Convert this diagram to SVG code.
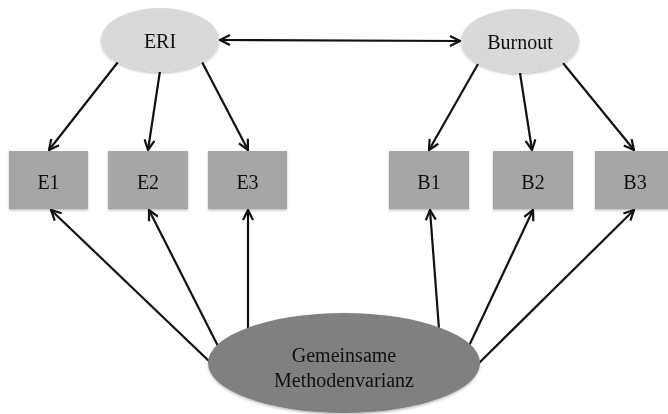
<svg xmlns="http://www.w3.org/2000/svg" width="668" height="414" viewBox="0 0 668 414">
  <style>
    .lat { fill: #d9d9d9; }
    .box { fill: #a6a6a6; }
    .cmv { fill: #808080; }
    .lbl { font-family: "Liberation Serif", "Times New Roman", serif; font-size: 20px; fill: #111; text-anchor: middle; }
    .edge { stroke: #111; stroke-width: 2.2; fill: none; marker-end: url(#head); }
    .both { marker-start: url(#tail); }
  </style>
  <defs>
    <marker id="head" viewBox="0 0 12 12" refX="11" refY="6" markerWidth="12" markerHeight="12" markerUnits="userSpaceOnUse" orient="auto">
      <path d="M1,1 L11,6 L1,11" fill="none" stroke="#111" stroke-width="2.2"/>
    </marker>
    <marker id="tail" viewBox="0 0 12 12" refX="1" refY="6" markerWidth="12" markerHeight="12" markerUnits="userSpaceOnUse" orient="auto">
      <path d="M11,1 L1,6 L11,11" fill="none" stroke="#111" stroke-width="2.2"/>
    </marker>
    <filter id="shadow" x="-10%" y="-10%" width="120%" height="130%">
      <feDropShadow dx="0" dy="1.5" stdDeviation="1.2" flood-color="#000" flood-opacity="0.25"/>
    </filter>
  </defs>

  <!-- connectors -->
  <g id="connectors">
    <line class="edge both" x1="220" y1="40" x2="460" y2="41"/>
    <line class="edge" x1="118" y1="62" x2="49" y2="150"/>
    <line class="edge" x1="160" y1="71" x2="148" y2="150"/>
    <line class="edge" x1="202" y1="62" x2="248" y2="150"/>
    <line class="edge" x1="478" y1="64" x2="429" y2="150"/>
    <line class="edge" x1="520" y1="73" x2="532" y2="150"/>
    <line class="edge" x1="563" y1="63" x2="634" y2="150"/>
    <line class="edge" x1="211" y1="363" x2="51" y2="210"/>
    <line class="edge" x1="219" y1="348" x2="149" y2="210"/>
    <line class="edge" x1="248" y1="329" x2="248" y2="210"/>
    <line class="edge" x1="439" y1="329" x2="430" y2="210"/>
    <line class="edge" x1="468" y1="348" x2="533" y2="210"/>
    <line class="edge" x1="478" y1="364" x2="634" y2="210"/>
  </g>

  <g id="eri" filter="url(#shadow)">
    <ellipse class="lat" cx="160" cy="40" rx="59" ry="32"/>
    <text class="lbl" x="160" y="48">ERI</text>
  </g>
  <g id="burnout" filter="url(#shadow)">
    <ellipse class="lat" cx="520" cy="41" rx="59" ry="32"/>
    <text class="lbl" x="520" y="49">Burnout</text>
  </g>

  <g id="e1" filter="url(#shadow)">
    <rect class="box" x="9" y="151" width="79" height="58"/>
    <text class="lbl" x="48.5" y="189">E1</text>
  </g>
  <g id="e2" filter="url(#shadow)">
    <rect class="box" x="108" y="151" width="80" height="58"/>
    <text class="lbl" x="148" y="189">E2</text>
  </g>
  <g id="e3" filter="url(#shadow)">
    <rect class="box" x="208" y="151" width="79" height="58"/>
    <text class="lbl" x="247.5" y="189">E3</text>
  </g>
  <g id="b1" filter="url(#shadow)">
    <rect class="box" x="389" y="151" width="80" height="58"/>
    <text class="lbl" x="429" y="189">B1</text>
  </g>
  <g id="b2" filter="url(#shadow)">
    <rect class="box" x="493" y="151" width="80" height="58"/>
    <text class="lbl" x="533" y="189">B2</text>
  </g>
  <g id="b3" filter="url(#shadow)">
    <rect class="box" x="595" y="151" width="80" height="58"/>
    <text class="lbl" x="635" y="189">B3</text>
  </g>

  <g id="methodenvarianz" filter="url(#shadow)">
    <ellipse class="cmv" cx="344" cy="363" rx="136" ry="50"/>
    <text class="lbl" x="344" y="362">Gemeinsame</text>
    <text class="lbl" x="344" y="387">Methodenvarianz</text>
  </g>
</svg>
